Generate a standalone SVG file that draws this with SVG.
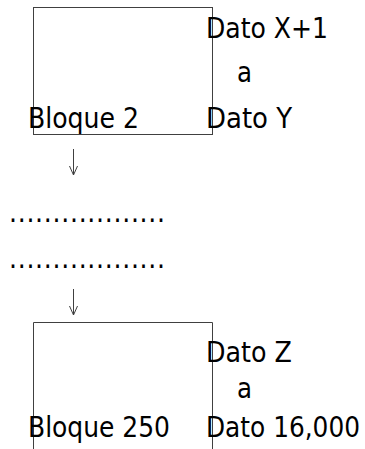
<svg xmlns="http://www.w3.org/2000/svg" width="365" height="449" viewBox="0 0 365 449">
<style>
.box{fill:none;stroke:#404040;stroke-width:1}
.t{font-family:"DejaVu Sans Condensed","DejaVu Sans",sans-serif;font-stretch:condensed;font-size:28px;fill:#000}
.c{fill:none;stroke:#404040;stroke-width:1}
</style>
<defs>
<marker id="ah" markerWidth="12" markerHeight="10" refX="10" refY="5" orient="auto" markerUnits="userSpaceOnUse" viewBox="0 0 12 10">
<path d="M1,1 L10,5 L1,9" fill="none" stroke="#404040" stroke-width="1"/>
</marker>
</defs>
<g id="bloque2">
<rect class="box" x="33.5" y="7.5" width="179" height="127"/>
<text class="t" x="206" y="38" textLength="122" lengthAdjust="spacingAndGlyphs">Dato X+1</text>
<text class="t" x="237" y="82" textLength="15" lengthAdjust="spacingAndGlyphs">a</text>
<text class="t" x="28" y="128" textLength="111" lengthAdjust="spacingAndGlyphs">Bloque 2</text>
<text class="t" x="206" y="128" textLength="86" lengthAdjust="spacingAndGlyphs">Dato Y</text>
</g>
<g id="dots">
<text class="t" x="9" y="222" textLength="156" lengthAdjust="spacing">..................</text>
<text class="t" x="9" y="268" textLength="156" lengthAdjust="spacing">..................</text>
</g>
<g id="bloque250">
<path class="box" d="M33.5,449 V322.5 H212.5 V449"/>
<text class="t" x="206" y="362" textLength="86" lengthAdjust="spacingAndGlyphs">Dato Z</text>
<text class="t" x="237" y="398" textLength="15" lengthAdjust="spacingAndGlyphs">a</text>
<text class="t" x="28" y="437" textLength="142" lengthAdjust="spacingAndGlyphs">Bloque 250</text>
<text class="t" x="206" y="437" textLength="154" lengthAdjust="spacingAndGlyphs">Dato 16,000</text>
</g>
<g id="connectors">
<line class="c" x1="73.5" y1="149" x2="73.5" y2="175" marker-end="url(#ah)"/>
<line class="c" x1="73.5" y1="289" x2="73.5" y2="315" marker-end="url(#ah)"/>
</g>
</svg>
